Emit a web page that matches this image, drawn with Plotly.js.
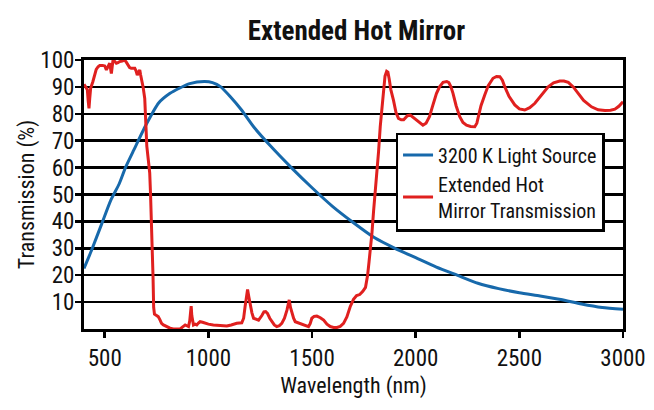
<!DOCTYPE html>
<html>
<head>
<meta charset="utf-8">
<script src="https://cdn.plot.ly/plotly-3.0.1.min.js"></script>
<style>html,body{margin:0;padding:0;background:#fff;} #chart{width:654px;height:410px;}</style>
</head>
<body>
<div id="chart"></div>
<script>
// 3200 K light source (blue)
const lightWavelength = [400,435,485,530,570,600,640,700,760,815,860,910,980,1020,1060,1105,1160,1220,1300,1400,1500,1600,1700,1800,1900,2000,2100,2200,2300,2400,2500,2600,2700,2800,2900,3000];
const lightTransmission = [22.5,29,39,48,54,60,66.5,76,84,87.6,89.5,91.2,92,91.6,90,86.4,81.4,75,68,60,52.5,45.5,39.5,34,30,26.5,23,20,17,15,13.5,12.3,11,9.3,8,7.3];

// Extended hot mirror transmission (red)
const mirrorWavelength = [400,410,416,420,424,428,432,443,451,459,468,476,490,500,508,516,524,532,536,540,548,556,564,572,584,596,604,612,620,628,645,651,657,663,669,673,677,685,693,698,703,710,717,721,725,729,733,736,740,750,758,766,774,783,798,815,831,848,864,876,888,896,904,910,914,917,920,924,928,936,944,952,960,972,984,1000,1024,1050,1070,1089,1110,1137,1161,1170,1177,1183,1189,1195,1201,1210,1218,1230,1242,1258,1268,1276,1285,1296,1306,1318,1330,1342,1354,1367,1379,1386,1390,1396,1403,1411,1419,1430,1443,1455,1467,1483,1491,1499,1510,1523,1540,1556,1572,1588,1604,1620,1636,1652,1668,1684,1700,1715,1730,1745,1758,1768,1775,1782,1789,1797,1805,1813,1821,1829,1837,1845,1852,1860,1866,1872,1880,1893,1905,1917,1930,1942,1960,1974,1990,2003,2020,2035,2050,2067,2080,2090,2100,2115,2132,2150,2160,2170,2180,2195,2212,2228,2245,2265,2285,2295,2301,2315,2333,2350,2373,2390,2406,2418,2430,2450,2478,2500,2526,2550,2575,2600,2620,2639,2665,2695,2715,2736,2760,2784,2810,2848,2880,2913,2940,2961,2980,3000];
const mirrorTransmission = [91,90,89,85,82,86,89.5,92,94.5,96.5,97.5,98,98,97.8,96.3,97.5,98.8,95,98,100,99.5,98.8,99,99.4,99.6,100,99.2,98,97.2,96.9,96.9,96,94.4,95.5,96.3,94.5,93.2,90,85.7,78,68,63,58,50,42,30,19.4,8,5.5,5,4.6,3.5,2.1,1.5,0.9,0.3,0,0,0,0.8,1.5,1.2,0.9,3,6,8.5,5,2.5,1.5,1.8,1.5,2.2,2.7,2.5,2.1,1.8,1.5,1.3,1.2,1.1,1.5,2.1,2.3,4,8.3,11.5,14.7,12,9.5,6,4,3.5,3.3,5,6.4,6.5,5.8,4,2.7,1.5,0.9,1.2,2.1,4,7,9.5,10.8,8,5.8,4,2.7,2.4,2.1,1.8,1.5,0.9,2,4,4.7,4.8,4.2,3.3,1.8,0.9,0.6,0.6,1,2.1,4.5,8.3,11,12.4,12.8,14,15.5,20,25,30,35.6,44,51,56.6,66,75.2,82,90,94,95.8,95.5,93,89,85,80.5,78.3,77.8,77.8,79.3,79.5,78.5,77.7,76.5,75.8,76.5,79,82.5,85.5,87.5,90,91.7,92,91.6,90,87.6,83,79,76.8,75.8,75.3,75.2,76.5,78.3,83,87,90.5,93.2,93.9,93.8,92.5,90,86.5,83.3,81.8,81.4,82.3,83.9,86.2,88.3,90,91.5,92.2,92.2,91.7,90,87.6,85,82.6,81.5,81.2,81.3,81.7,82.8,84.5];

const xTickValues = [500,1000,1500,2000,2500,3000];
const xTickLabels = ["500","1000","1500","2000","2500","3000"];
const yTickValues = [10,20,30,40,50,60,70,80,90,100];
const yTickLabels = ["10","20","30","40","50","60","70","80","90","100"];

const seriesNames = ["3200 K Light Source", "Extended Hot<br>Mirror Transmission"];
const chartTitle = "Extended Hot Mirror";
const xTitle = "Wavelength (nm)";
const yTitle = "Transmission (%)";

const FONT = "'Liberation Sans Narrow', 'Arial Narrow', 'Roboto Condensed', 'DejaVu Sans Condensed', sans-serif";

const traces = [
  {x: lightWavelength, y: lightTransmission, name: seriesNames[0], type: 'scatter', mode: 'lines',
   line: {color: '#1769ab', width: 3, shape: 'spline', smoothing: 0.6}},
  {x: mirrorWavelength, y: mirrorTransmission, name: seriesNames[1], type: 'scatter', mode: 'lines',
   line: {color: '#e0201f', width: 3}}
];

const layout = {
  width: 654, height: 410,
  margin: {l: 84, r: 31, t: 60, b: 81},
  paper_bgcolor: '#fff', plot_bgcolor: '#fff',
  font: {family: FONT, color: '#111', size: 22},
  title: {text: chartTitle, x: 0.545, xanchor: 'center', y: 0.926, yanchor: 'middle',
          font: {family: FONT, size: 27, weight: 'bold', color: '#111'}},
  xaxis: {range: [400, 3000], tickvals: xTickValues, ticktext: xTickLabels,
          showgrid: false, zeroline: false, showline: true, mirror: true, linecolor: '#000', linewidth: 3,
          ticks: 'outside', ticklen: 6, tickwidth: 2.5, tickcolor: '#000',
          tickfont: {family: FONT, size: 23, color: '#111'},
          title: {text: xTitle, font: {family: FONT, size: 22, color: '#111'}, standoff: 8}},
  yaxis: {range: [0, 100], tickvals: yTickValues, ticktext: yTickLabels,
          showgrid: true, gridcolor: '#000', gridwidth: 2.5, zeroline: false,
          showline: true, mirror: true, linecolor: '#000', linewidth: 3,
          ticks: 'outside', ticklen: 6, tickwidth: 2.5, tickcolor: '#000',
          ticklabelstandoff: -4,
          tickfont: {family: FONT, size: 23, color: '#111'},
          title: {text: yTitle, font: {family: FONT, size: 22, color: '#111'}, standoff: 0}},
  showlegend: true,
  legend: {x: 0.578, y: 0.729, xanchor: 'left', yanchor: 'top', bgcolor: '#fff',
           bordercolor: '#000', borderwidth: 2.5, font: {family: FONT, size: 20, color: '#111'},
           tracegroupgap: 0}
};

Plotly.newPlot('chart', traces, layout, {staticPlot: true, displayModeBar: false});
</script>
</body>
</html>
